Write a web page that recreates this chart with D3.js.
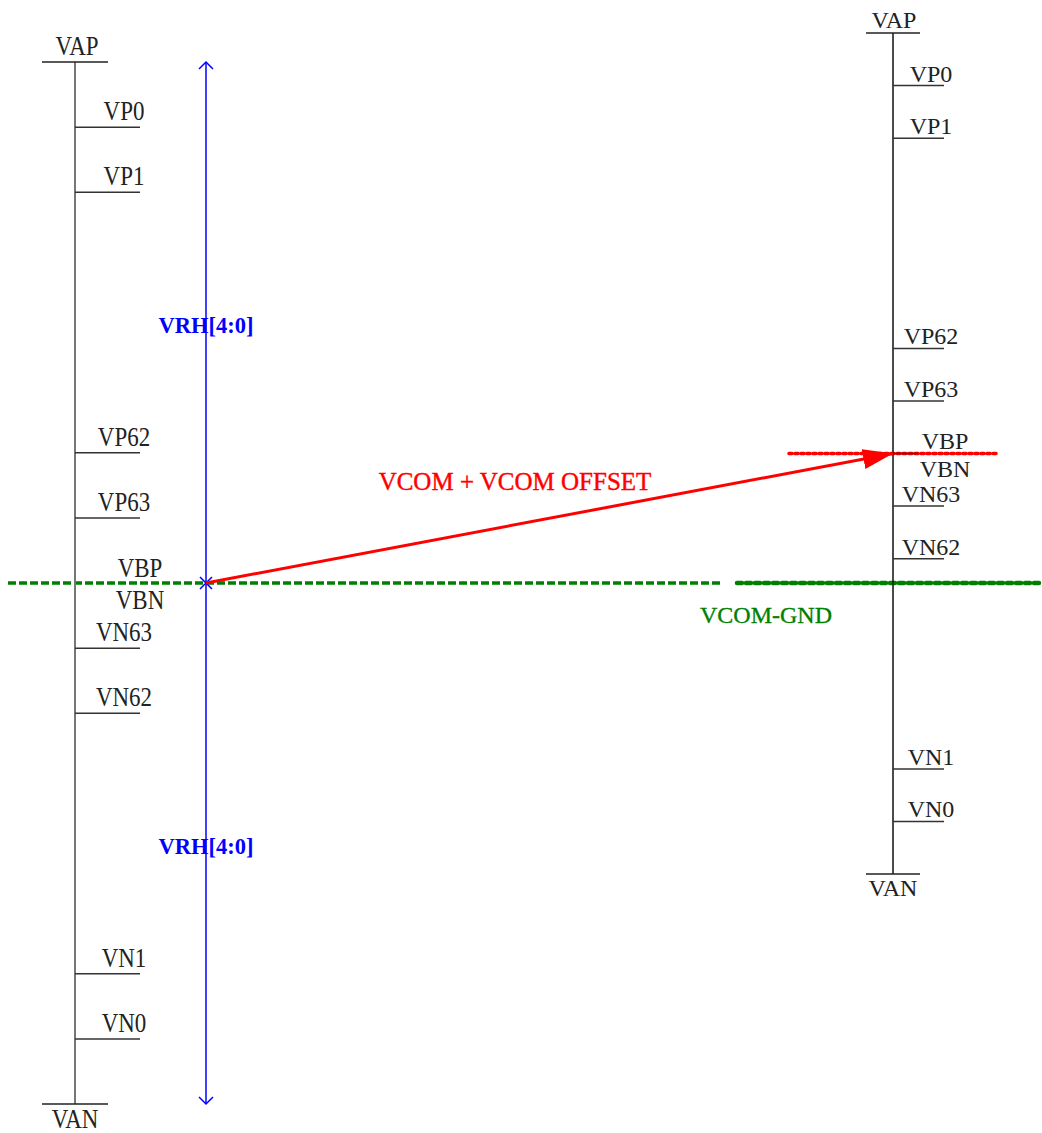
<!DOCTYPE html>
<html>
<head>
<meta charset="utf-8">
<script src="https://cdn.jsdelivr.net/npm/d3@7"></script>
<style>
  body { margin: 0; background: #fff; }
  svg { display: block; }
  text { font-family: "Liberation Serif", "DejaVu Serif", serif; }
</style>
</head>
<body>
<div id="chart"></div>
<script>
const width = 1042;
const height = 1133;

// level steps along each bus (same ladder on both sides, only scale differs)
const tickNames = ["VP0", "VP1", "VP62", "VP63", "VN63", "VN62", "VN1", "VN0"];
const tickSteps = [1, 2, 6, 7, 9, 10, 14, 15];
const topName = "VAP";
const bottomName = "VAN";
const midNames = ["VBP", "VBN"];
const midStep = 8;
const stepMax = 16;
const vrhSteps = [4, 12];
const vrhLabel = "VRH[4:0]";
const arrowLabel = "VCOM + VCOM OFFSET";
const gndLabel = "VCOM-GND";

const svg = d3.select("#chart").append("svg")
    .attr("width", width)
    .attr("height", height)

const defs = svg.append("defs")
defs.append("marker")
    .attr("id", "red-head")
    .attr("viewBox", "0 0 30 20")
    .attr("refX", 30)
    .attr("refY", 10)
    .attr("markerWidth", 30)
    .attr("markerHeight", 20)
    .attr("markerUnits", "userSpaceOnUse")
    .attr("orient", "auto")
    .append("path")
    .attr("d", "M0,0 L30,10 L0,20 Z")
    .attr("fill", "red")

// vertical scales for the two buses
const yLeft = d3.scaleLinear().domain([0, stepMax]).range([62, 1104]);
const yRight = d3.scaleLinear().domain([0, stepMax]).range([33, 874]);

// horizontal anchors
const x = {
    leftBus: 75, leftTick: 140, leftLabel: 124, leftMid: 140,
    blue: 206,
    rightBus: 893, rightTick: 944, rightLabel: 931, rightMid: 945
};

const green = "#008000";

// ---- green VCOM-GND line (drawn first, sits under everything)
const gndY = yLeft(midStep);
svg.append("line")
    .attr("x1", 8).attr("x2", 722)
    .attr("y1", gndY).attr("y2", gndY)
    .attr("stroke", green)
    .attr("stroke-width", 3.5)
    .attr("stroke-dasharray", "8,3")
svg.append("line")
    .attr("x1", 737).attr("x2", 1042)
    .attr("y1", gndY).attr("y2", gndY)
    .attr("stroke", green)
    .attr("stroke-width", 4.5)
    .attr("stroke-linecap", "round")
    .attr("stroke-dasharray", "5,4")

svg.append("text")
    .text(gndLabel)
    .attr("x", 766).attr("y", 623)
    .attr("text-anchor", "middle")
    .attr("font-size", 24)
    .attr("fill", green)
    .attr("stroke", green)
    .attr("stroke-width", 0.3)

// ---- red dotted line on right VBP
const vbpRight = yRight(midStep);
svg.append("line")
    .attr("x1", 789).attr("x2", 996)
    .attr("y1", vbpRight).attr("y2", vbpRight)
    .attr("stroke", "red")
    .attr("stroke-width", 3.5)
    .attr("stroke-linecap", "round")
    .attr("stroke-dasharray", "3,3")

// ---- bus drawing helper
function drawBus(g, y, opt) {
    g.append("line")
        .attr("x1", opt.bus).attr("x2", opt.bus)
        .attr("y1", y(0)).attr("y2", y(stepMax))
        .attr("stroke", opt.busColour)
        .attr("stroke-width", opt.busWidth)

    g.selectAll("line.cap")
        .data([0, stepMax])
        .join("line")
        .attr("class", "cap")
        .attr("x1", opt.bus - opt.capHalf).attr("x2", opt.bus + opt.capHalf)
        .attr("y1", d => y(d)).attr("y2", d => y(d))
        .attr("stroke", "#222")
        .attr("stroke-width", 1.5)

    g.selectAll("line.tick")
        .data(tickSteps)
        .join("line")
        .attr("class", "tick")
        .attr("x1", opt.bus).attr("x2", opt.tick)
        .attr("y1", d => y(d)).attr("y2", d => y(d))
        .attr("stroke", "#333")
        .attr("stroke-width", 1.5)

    const label = (txt, cx, cy) => g.append("text")
        .text(txt)
        .attr("text-anchor", "middle")
        .attr("font-size", opt.fontSize)
        .attr("fill", "#222")
        .attr("transform", `translate(${cx},${cy}) scale(${opt.squeeze},1)`)

    tickSteps.forEach((s, i) => label(tickNames[i], opt.label, y(s) - opt.lift))
    label(topName, opt.bus + opt.capShift, y(0) - opt.capLift)
    label(bottomName, opt.bus, y(stepMax) + opt.capDrop)
    label(midNames[0], opt.mid, y(midStep) - opt.midLift)
    label(midNames[1], opt.mid, y(midStep) + opt.midDrop)
}

drawBus(svg.append("g"), yLeft, {
    bus: x.leftBus, tick: x.leftTick, label: x.leftLabel, mid: x.leftMid,
    busColour: "#777", busWidth: 2, capHalf: 33,
    fontSize: 27, squeeze: 0.85, lift: 7,
    capShift: 2, capLift: 7, capDrop: 24, midLift: 6, midDrop: 26
})

drawBus(svg.append("g"), yRight, {
    bus: x.rightBus, tick: x.rightTick, label: x.rightLabel, mid: x.rightMid,
    busColour: "#111", busWidth: 1.5, capHalf: 27,
    fontSize: 24, squeeze: 1, lift: 4,
    capShift: 1, capLift: 5, capDrop: 22, midLift: 5, midDrop: 23
})

// short dark VBP stub on the right, over the red dots
svg.append("line")
    .attr("x1", x.rightBus).attr("x2", x.rightBus + 25)
    .attr("y1", vbpRight).attr("y2", vbpRight)
    .attr("stroke", "#333")
    .attr("stroke-width", 1.5)

// ---- blue VRH range line with open arrowheads
const blue = svg.append("g").attr("stroke", "blue").attr("fill", "none").attr("stroke-width", 1.5)
blue.append("line")
    .attr("x1", x.blue).attr("x2", x.blue)
    .attr("y1", yLeft(0)).attr("y2", yLeft(stepMax))
blue.append("path")
    .attr("d", d3.line()([[x.blue - 7, yLeft(0) + 7], [x.blue, yLeft(0)], [x.blue + 7, yLeft(0) + 7]]))
blue.append("path")
    .attr("d", d3.line()([[x.blue - 7, yLeft(stepMax) - 7], [x.blue, yLeft(stepMax)], [x.blue + 7, yLeft(stepMax) - 7]]))
blue.append("path")
    .attr("d", `M${x.blue - 6},${gndY - 6} L${x.blue + 6},${gndY + 6} M${x.blue + 6},${gndY - 6} L${x.blue - 6},${gndY + 6}`)

svg.selectAll("text.vrh")
    .data(vrhSteps)
    .join("text")
    .attr("class", "vrh")
    .text(vrhLabel)
    .attr("x", x.blue)
    .attr("y", d => yLeft(d) + 10)
    .attr("text-anchor", "middle")
    .attr("font-size", 22.5)
    .attr("font-weight", "bold")
    .attr("fill", "blue")

// ---- red offset arrow
svg.append("line")
    .attr("x1", x.blue).attr("y1", gndY)
    .attr("x2", x.rightBus).attr("y2", vbpRight)
    .attr("stroke", "red")
    .attr("stroke-width", 3)
    .attr("marker-end", "url(#red-head)")

svg.append("text")
    .text(arrowLabel)
    .attr("x", 515).attr("y", 490)
    .attr("text-anchor", "middle")
    .attr("font-size", 25)
    .attr("fill", "red")
    .attr("stroke", "red")
    .attr("stroke-width", 0.4)
</script>
</body>
</html>
